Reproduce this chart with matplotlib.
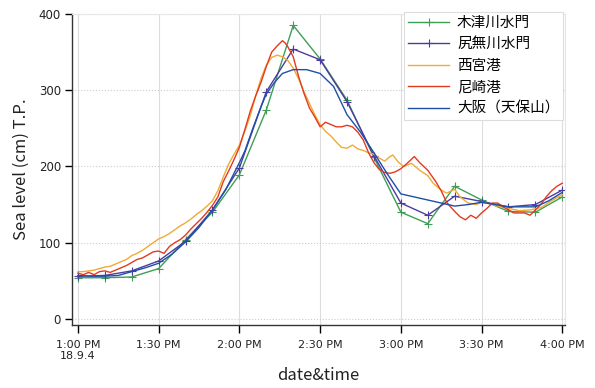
import matplotlib
matplotlib.use("Agg")
import matplotlib.pyplot as plt

plt.rcParams['font.family'] = ['Noto Sans CJK JP', 'DejaVu Sans']

# minutes after 13:00 (2018-09-04)
t10 = [0, 10, 20, 30, 40, 50, 60, 70, 80, 90, 100, 110, 120, 130, 140, 150, 160, 170, 180]
kizugawa = [54, 54, 55, 66, 104, 140, 189, 274, 385, 341, 287, 212, 140, 125, 174, 156, 141, 140, 160]
shirinashi = [56, 57, 63, 76, 102, 143, 198, 298, 354, 340, 285, 214, 152, 136, 161, 154, 147, 150, 169]

t_nishi = [0, 2, 4, 6, 8, 10, 12, 14, 16, 18, 20, 22, 24, 26, 28, 30, 32, 34, 36, 38, 40,
           42, 44, 46, 48, 50, 52, 54, 56, 58, 60, 62, 64, 66, 68, 70, 72, 74, 76, 78, 80,
           82, 84, 86, 88, 90, 92, 94, 96, 98, 100, 102, 104, 106, 108, 110, 112, 114, 116,
           117, 119, 121, 124, 127, 130, 132, 135, 137, 140, 142, 145, 148, 150, 153, 156,
           160, 164, 168, 172, 176, 180]
nishinomiya = [62, 62, 63, 64, 66, 68, 69, 72, 75, 78, 83, 86, 90, 95, 100, 105, 108, 112, 117, 122, 126,
               131, 137, 142, 148, 155, 168, 186, 203, 216, 228, 246, 266, 292, 315, 333, 343, 346, 344, 339, 329,
               315, 298, 283, 268, 255, 246, 240, 232, 225, 224, 228, 223, 221, 218, 216, 211, 207, 213,
               215, 206, 200, 204, 195, 188, 178, 169, 165, 170, 160, 152, 150, 153, 151, 148,
               145, 142, 143, 146, 155, 163]

t_ama = [0, 2, 4, 6, 8, 10, 12, 14, 16, 18, 20, 22, 24, 26, 28, 30, 32, 34, 36, 38, 40,
         42, 44, 46, 48, 50, 52, 54, 56, 58, 60, 62, 64, 66, 68, 70, 72, 74, 76, 77, 78, 80,
         82, 84, 86, 88, 90, 92, 94, 96, 98, 100, 102, 104, 106, 108, 110, 112, 114, 116, 118,
         120, 122, 125, 127, 130, 133, 135, 137, 140, 142, 144, 146, 148, 150, 152, 154, 156,
         158, 160, 162, 164, 166, 168, 170, 172, 174, 176, 178, 180]
amagasaki = [60, 58, 61, 58, 62, 63, 61, 64, 67, 70, 74, 78, 80, 84, 88, 89, 86, 95, 100, 104, 110,
             118, 125, 132, 140, 149, 160, 180, 194, 209, 225, 248, 272, 292, 310, 331, 350, 358, 365, 362, 357, 344,
             318, 296, 277, 265, 252, 258, 255, 252, 252, 254, 252, 245, 235, 218, 205, 196, 192, 191, 193,
             197, 203, 213, 205, 195, 180, 168, 153, 141, 134, 130, 136, 132, 139, 145, 152, 152,
             147, 143, 139, 139, 139, 136, 143, 150, 160, 168, 174, 178]

t_osaka = [0, 5, 10, 15, 20, 25, 30, 35, 40, 45, 50, 55, 60, 62, 65, 68, 70, 73, 76, 80, 85,
           90, 95, 100, 105, 110, 115, 120, 130, 140, 145, 150, 155, 160, 170, 175, 180]
osaka = [57, 56, 56, 57, 62, 67, 73, 85, 101, 120, 143, 170, 205, 220, 250, 278, 295, 310, 322, 327, 327,
         322, 305, 268, 245, 218, 190, 164, 156, 148, 150, 153, 150, 147, 147, 155, 166]

tick_pos = [0, 30, 60, 90, 120, 150, 180]
tick_labels = ['1:00 PM\n18.9.4', '1:30 PM', '2:00 PM', '2:30 PM', '3:00 PM', '3:30 PM', '4:00 PM']

fig = plt.figure(figsize=(5.95, 3.88), dpi=100)
ax = fig.add_axes([72 / 595, 1 - 325 / 388, (565 - 72) / 595, (325 - 14) / 388])

ax.plot(t10, kizugawa, color='#3f9e55', lw=1.0, marker='+', ms=5.5, mew=0.8, label='木津川水門')
ax.plot(t10, shirinashi, color='#4c3ca0', lw=1.0, marker='+', ms=5.5, mew=0.8, label='尻無川水門')
ax.plot(t_nishi, nishinomiya, color='#f0aa35', lw=1.0, label='西宮港')
ax.plot(t_ama, amagasaki, color='#e23a22', lw=1.0, label='尼崎港')
ax.plot(t_osaka, osaka, color='#1f4fa8', lw=1.0, label='大阪（天保山）')

ax.set_xlim(-2.2, 181)
ax.set_ylim(-8, 400)
ax.set_xticks(tick_pos)
ax.set_xticklabels(tick_labels, fontsize=8, color='#222222', ha='center', family='DejaVu Sans')
ax.set_yticks([0, 100, 200, 300, 400])
ax.set_yticklabels(['0', '100', '200', '300', '400'], fontsize=8.5, color='#222222', family='DejaVu Sans')
ax.tick_params(axis='y', length=5, width=1, direction='out', pad=3)
ax.tick_params(axis='x', length=6, width=1, direction='out', pad=4.5)

ax.grid(axis='x', color='#dddddd', lw=0.8)
ax.grid(axis='y', color='#cccccc', lw=0.8, ls=':')
ax.set_axisbelow(True)

for s in ['left', 'bottom']:
    ax.spines[s].set_color('#333333')
    ax.spines[s].set_linewidth(1.0)
for s in ['top', 'right']:
    ax.spines[s].set_color('#e6e6e6')
    ax.spines[s].set_linewidth(0.8)

ax.set_ylabel('Sea level (cm) T.P.', fontsize=12, color='#222222', labelpad=6)
ax.set_xlabel('date&time', fontsize=12, color='#222222', labelpad=4)

leg = ax.legend(loc='upper right', bbox_to_anchor=(563 / 595, 1 - 12 / 388),
                bbox_transform=fig.transFigure, fontsize=10.5, frameon=True, fancybox=False,
                edgecolor='#dddddd', framealpha=1, handlelength=2.8, labelspacing=0.52,
                borderpad=0.25, handletextpad=0.55, borderaxespad=0)
leg.get_frame().set_linewidth(0.8)

fig.savefig('out.png', dpi=100)
